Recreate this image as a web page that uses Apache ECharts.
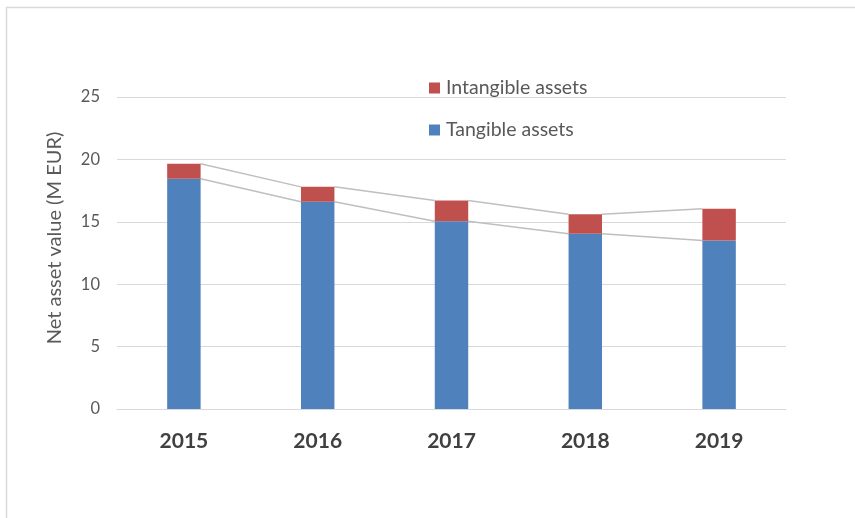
<!DOCTYPE html>
<html>
<head>
<meta charset="utf-8">
<script src="https://cdn.jsdelivr.net/npm/echarts@6/dist/echarts.min.js"></script>
<style>
html,body{margin:0;padding:0;background:#fff;}
#chart{width:855px;height:518px;}
</style>
</head>
<body>
<div id="chart"></div>
<script>
const categories = ['2015', '2016', '2017', '2018', '2019'];
const tangible = [18.45, 16.6, 15.05, 14.05, 13.5];
const intangible = [1.2, 1.2, 1.65, 1.55, 2.55];
const yTicks = [0, 5, 10, 15, 20, 25];

const FONT = 'Lato, "Open Sans", sans-serif';
const totals = tangible.map((v, i) => v + intangible[i]);

// series-line segments: [startIndex, startValue, endValue]
const segTotal = [];
const segTang = [];
for (let i = 0; i < categories.length - 1; i++) {
  segTotal.push([i, totals[i], totals[i + 1]]);
  segTang.push([i, tangible[i], tangible[i + 1]]);
}
const BAR_FRAC = 0.25;
function seriesLine(params, api) {
  const i = api.value(0);
  const p1 = api.coord([i, api.value(1)]);
  const p2 = api.coord([i + 1, api.value(2)]);
  const band = api.size([1, 0])[0];
  const hw = band * BAR_FRAC / 2;
  return {
    type: 'line',
    shape: { x1: p1[0] + hw, y1: p1[1], x2: p2[0] - hw, y2: p2[1] },
    style: { stroke: '#bfbfbf', lineWidth: 1.5 }
  };
}

const chart = echarts.init(document.getElementById('chart'), null, { renderer: 'canvas' });
chart.setOption({
  animation: false,
  backgroundColor: '#fff',
  graphic: [{
    type: 'rect',
    shape: { x: 6.5, y: 7.5, width: 900, height: 600 },
    style: { fill: 'none', stroke: '#d9d9d9', lineWidth: 1.5 },
    silent: true, z: -10
  }],
  grid: { left: 117, right: 69, top: 97, bottom: 109 },
  legend: {
    data: ['Intangible assets', 'Tangible assets'],
    orient: 'vertical',
    left: 424,
    top: 73,
    itemGap: 22,
    itemWidth: 11,
    itemHeight: 11,
    icon: 'rect',
    textStyle: { fontFamily: FONT, fontSize: 19.5, color: '#595959', padding: [0, 0, 0, 1] }
  },
  xAxis: {
    type: 'category',
    data: categories,
    axisLine: { lineStyle: { color: '#d9d9d9', width: 1 } },
    axisTick: { show: false },
    axisLabel: { fontFamily: FONT, fontSize: 21, fontWeight: 'bold', color: '#404040', margin: 22 }
  },
  yAxis: {
    type: 'value',
    min: 0, max: 25, interval: 5,
    name: 'Net asset value (M EUR)',
    nameLocation: 'middle',
    nameGap: 52,
    nameTextStyle: { fontFamily: FONT, fontSize: 20, color: '#595959', padding: [0, 0, 0, 30] },
    axisLine: { show: false },
    axisTick: { show: false },
    splitLine: { lineStyle: { color: '#d9d9d9', width: 1 } },
    axisLabel: {
      fontFamily: FONT, fontSize: 16.5, color: '#595959', margin: 17,
      formatter: v => yTicks.includes(v) ? String(v) : ''
    }
  },
  series: [
    {
      name: 'Tangible assets', type: 'bar', stack: 'a', barWidth: '25%',
      data: tangible, itemStyle: { color: '#4F81BD' }, z: 3
    },
    {
      name: 'Intangible assets', type: 'bar', stack: 'a', barWidth: '25%',
      data: intangible, itemStyle: { color: '#C0504D' }, z: 3
    },
    {
      type: 'custom', renderItem: seriesLine, data: segTotal, z: 2,
      encode: { x: 0, y: [1, 2] }, silent: true
    },
    {
      type: 'custom', renderItem: seriesLine, data: segTang, z: 2,
      encode: { x: 0, y: [1, 2] }, silent: true
    }
  ]
});
</script>
</body>
</html>
